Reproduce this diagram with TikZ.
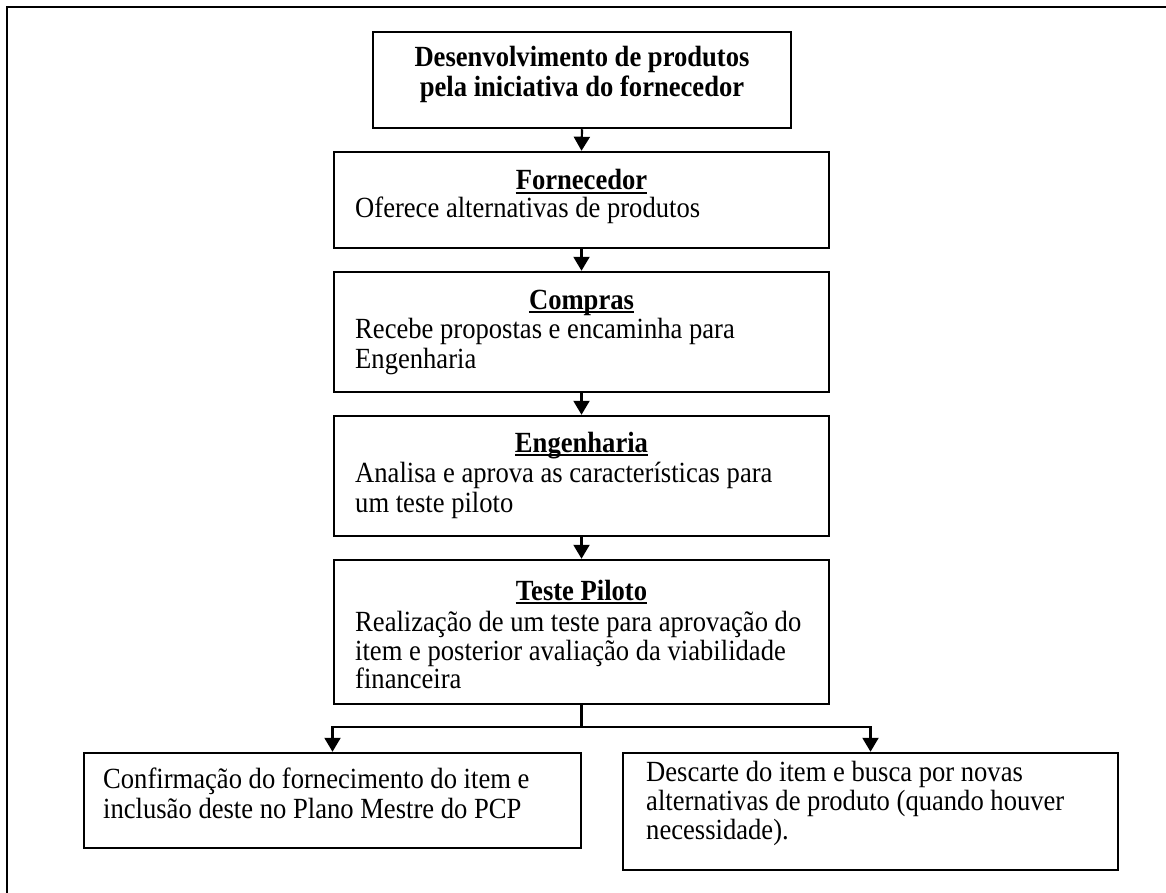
\documentclass[tikz,border=0pt]{standalone}
\usepackage{graphicx}
\usepackage{fontspec}
\setmainfont{Liberation Serif}
\usetikzlibrary{arrows.meta}
\newcommand{\vstr}[1]{\scalebox{1}[1.1]{#1}}
\begin{document}
\begin{tikzpicture}[x=1pt,y=-1pt,
  box/.style={draw, line width=2.5pt, inner sep=0pt, rectangle},
  txt/.style={inner sep=0pt, font=\fontsize{26.6}{29.5}\selectfont},
  ttl/.style={inner sep=0pt, font=\fontsize{26.6}{29.5}\selectfont\bfseries},
  uline/.style={line width=1.8pt},
  arr/.style={-{Triangle[width=16pt,length=14pt]}, line width=2.2pt}]
\useasboundingbox (0,0) rectangle (1166,893);
\begin{scope}
\clip (0,0) rectangle (1166,893);
\draw[line width=2.5pt] (7,7) rectangle (1180,910);
\end{scope}

% boxes
\node[box, minimum width=418pt, minimum height=96pt] (b0) at (582,80) {};
\node[box, minimum width=495pt, minimum height=96pt] (b1) at (581.5,200) {};
\node[box, minimum width=495pt, minimum height=120pt] (b2) at (581.5,332) {};
\node[box, minimum width=495pt, minimum height=120pt] (b3) at (581.5,476) {};
\node[box, minimum width=495pt, minimum height=144pt] (b4) at (581.5,632) {};
\node[box, minimum width=497pt, minimum height=95pt] (b5) at (332.5,800.5) {};
\node[box, minimum width=495pt, minimum height=117pt] (b6) at (870.5,811.5) {};

% top box text
\node[ttl, anchor=base] (t0a) at (582,67) {\vstr{Desenvolvimento de produtos}};
\node[ttl, anchor=base] (t0b) at (582,97) {\vstr{pela iniciativa do fornecedor}};

% Fornecedor
\node[ttl, anchor=base] (t1) at (581.5,190) {\vstr{Fornecedor}};
\draw[uline] ([yshift=-3pt]t1.base west) -- ([yshift=-3pt]t1.base east);
\node[txt, anchor=base west] (t1a) at (355,218) {\vstr{Oferece alternativas de produtos}};

% Compras
\node[ttl, anchor=base] (t2) at (581.5,309) {\vstr{Compras}};
\draw[uline] ([yshift=-3pt]t2.base west) -- ([yshift=-3pt]t2.base east);
\node[txt, anchor=base west] (t2a) at (355,338) {\vstr{Recebe propostas e encaminha para}};
\node[txt, anchor=base west] (t2b) at (355,368) {\vstr{Engenharia}};

% Engenharia
\node[ttl, anchor=base] (t3) at (581.5,452) {\vstr{Engenharia}};
\draw[uline] ([yshift=-3pt]t3.base west) -- ([yshift=-3pt]t3.base east);
\node[txt, anchor=base west] (t3a) at (355,482) {\vstr{Analisa e aprova as características para}};
\node[txt, anchor=base west] (t3b) at (355,512) {\vstr{um teste piloto}};

% Teste Piloto
\node[ttl, anchor=base] (t4) at (581.5,600) {\vstr{Teste Piloto}};
\draw[uline] ([yshift=-3pt]t4.base west) -- ([yshift=-3pt]t4.base east);
\node[txt, anchor=base west] (t4a) at (355,631) {\vstr{Realização de um teste para aprovação do}};
\node[txt, anchor=base west] (t4b) at (355,660) {\vstr{item e posterior avaliação da viabilidade}};
\node[txt, anchor=base west] (t4c) at (355,688) {\vstr{financeira}};

% bottom left
\node[txt, anchor=base west] (t5a) at (103,788) {\vstr{Confirmação do fornecimento do item e}};
\node[txt, anchor=base west] (t5b) at (103,818) {\vstr{inclusão deste no Plano Mestre do PCP}};

% bottom right
\node[txt, anchor=base west] (t6a) at (646,781) {\vstr{Descarte do item e busca por novas}};
\node[txt, anchor=base west] (t6b) at (646,810) {\vstr{alternativas de produto (quando houver}};
\node[txt, anchor=base west] (t6c) at (646,839) {\vstr{necessidade).}};

% connectors
\draw[arr] (b0.south) -- (b1.north);
\draw[arr] (b1.south) -- (b2.north);
\draw[arr] (b2.south) -- (b3.north);
\draw[arr] (b3.south) -- (b4.north);
\coordinate (sp) at (581.5,727);
\draw[line width=2.2pt] (b4.south) -- (sp);
\draw[arr] (sp) -| (b5.north);
\draw[arr] (sp) -| (b6.north);
\end{tikzpicture}
\end{document}
